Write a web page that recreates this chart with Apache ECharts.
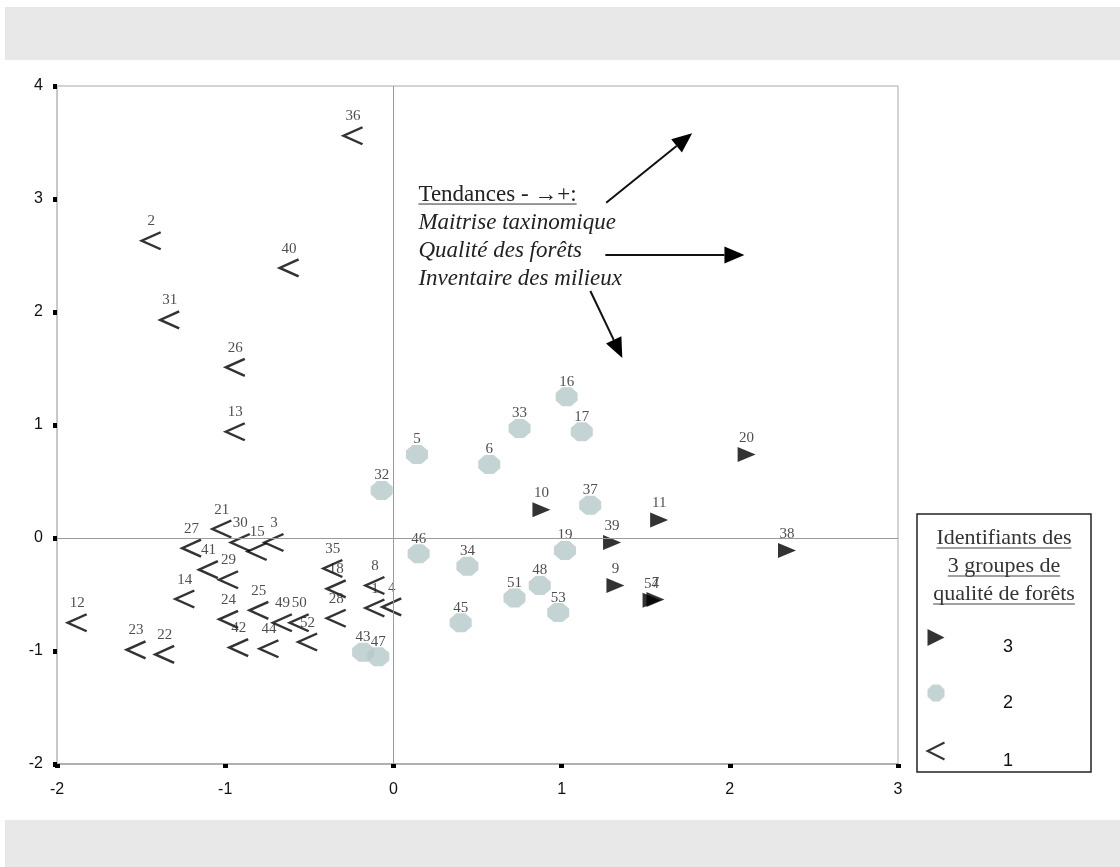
<!DOCTYPE html>
<html>
<head>
<meta charset="utf-8">
<script src="https://cdn.jsdelivr.net/npm/echarts@6/dist/echarts.min.js"></script>
<style>
  html, body { margin: 0; padding: 0; background: #fff; }
  #chart { width: 1120px; height: 867px; }
</style>
</head>
<body>
<div id="chart"></div>
<script>
// Forest sites projected on the first two factorial axes, by quality group.

// Group 1 (lowest quality)
const ids1 = [36, 2, 40, 31, 26, 13, 21, 30, 15, 3, 27, 41, 29, 14, 12, 23, 22, 24, 25, 42, 44, 49, 50, 52, 35, 18, 28, 8, 1, 4];
const x1 = [-0.24, -1.44, -0.62, -1.33, -0.94, -0.94, -1.02, -0.91, -0.81, -0.71, -1.20, -1.10, -0.98, -1.24, -1.88, -1.53, -1.36, -0.98, -0.80, -0.92, -0.74, -0.66, -0.56, -0.51, -0.36, -0.34, -0.34, -0.11, -0.11, -0.01];
const y1 = [3.56, 2.63, 2.39, 1.93, 1.51, 0.94, 0.08, -0.04, -0.12, -0.04, -0.09, -0.28, -0.37, -0.54, -0.75, -0.99, -1.03, -0.72, -0.64, -0.97, -0.98, -0.75, -0.75, -0.92, -0.27, -0.45, -0.71, -0.42, -0.62, -0.61];

// Group 2 (intermediate)
const ids2 = [16, 33, 17, 5, 6, 32, 37, 46, 34, 19, 48, 51, 53, 45, 43, 47];
const x2 = [1.03, 0.75, 1.12, 0.14, 0.57, -0.07, 1.17, 0.15, 0.44, 1.02, 0.87, 0.72, 0.98, 0.40, -0.18, -0.09];
const y2 = [1.25, 0.97, 0.94, 0.74, 0.65, 0.42, 0.29, -0.14, -0.25, -0.11, -0.42, -0.53, -0.66, -0.75, -1.01, -1.05];

// Group 3 (highest quality)
const ids3 = [20, 10, 11, 39, 38, 9, 7, 54];
const x3 = [2.10, 0.88, 1.58, 1.30, 2.34, 1.32, 1.558, 1.535];
const y3 = [0.74, 0.25, 0.16, -0.04, -0.11, -0.42, -0.545, -0.55];

// Axis ranges and tick labels
const xTicks = [-2, -1, 0, 1, 2, 3];
const yTicks = [-2, -1, 0, 1, 2, 3, 4];

// Trend text block and its arrows (data coordinates)
const trendTitle = 'Tendances - \u2192+:';
const trendLines = ['Maitrise taxinomique', 'Qualit\u00e9 des for\u00eats', 'Inventaire des milieux'];
const trendArrows = [
  [[1.265, 2.967], [1.776, 3.581]],
  [[1.260, 2.504], [2.087, 2.504]],
  [[1.171, 2.186], [1.361, 1.593]]
];

const legendTitle = ['Identifiants des', '3 groupes de', 'qualit\u00e9 de for\u00eats'];

const SERIF = '"Liberation Serif", "Times New Roman", "DejaVu Serif", serif';
const SANS = '"Liberation Sans", Arial, sans-serif';

const chevron = 'path://M10,0 L0,5 L10,10';
const octagon = 'path://M3,0 L7,0 L10,3 L10,7 L7,10 L3,10 L0,7 L0,3 Z';
const triangle = 'path://M0,0 L10,5 L0,10 Z';

function points(xs, ys, ids) {
  return ids.map((id, i) => [xs[i], ys[i], id]);
}

function pointLabel(distance) {
  return {
    show: true,
    position: 'top',
    distance: distance,
    formatter: p => String(p.value[2]),
    fontFamily: SERIF,
    fontSize: 15,
    color: '#222'
  };
}

const chart = echarts.init(document.getElementById('chart'), null, { renderer: 'canvas' });

const option = {
  animation: false,
  backgroundColor: '#fff',
  grid: {
    left: 57, right: 222, top: 86, bottom: 103,
    show: true, borderColor: '#a8a8a8', borderWidth: 1, backgroundColor: 'transparent'
  },
  xAxis: {
    type: 'value', min: xTicks[0], max: xTicks[xTicks.length - 1], interval: 1,
    axisLine: { show: true, onZero: false, lineStyle: { color: '#b0b0b0', width: 2 } },
    axisTick: { show: true, length: 4, lineStyle: { color: '#000', width: 5 } },
    splitLine: { show: false },
    axisLabel: { fontFamily: SANS, fontSize: 16, color: '#111', margin: 18 }
  },
  yAxis: {
    type: 'value', min: yTicks[0], max: yTicks[yTicks.length - 1], interval: 1,
    axisLine: { show: true, onZero: false, lineStyle: { color: '#c8c8c8', width: 2 } },
    axisTick: { show: true, length: 4, lineStyle: { color: '#000', width: 5 } },
    splitLine: { show: false },
    axisLabel: { fontFamily: SANS, fontSize: 16, color: '#111', margin: 14 }
  },
  legend: {
    orient: 'vertical',
    left: 925, top: 629,
    padding: 0,
    itemWidth: 22, itemHeight: 17, itemGap: 28,
    selectedMode: false,
    data: ['3', '2', '1'],
    formatter: name => '{t|' + name + '}',
    textStyle: {
      rich: { t: { fontFamily: SANS, fontSize: 18, color: '#111', padding: [20, 0, 0, 51] } }
    }
  },
  series: [
    {
      // reference lines through the origin
      name: 'axes', type: 'scatter', data: [], silent: true,
      markLine: {
        silent: true, symbol: ['none', 'none'], animation: false,
        label: { show: false },
        lineStyle: { color: '#9a9a9a', width: 1, type: 'solid' },
        emphasis: { disabled: true },
        data: [{ xAxis: 0 }, { yAxis: 0 }]
      }
    },
    {
      name: '1', type: 'scatter', data: points(x1, y1, ids1),
      symbol: chevron, symbolSize: [19, 17], symbolKeepAspect: false,
      itemStyle: { color: 'none', borderColor: '#000', borderWidth: 2.5 },
      label: pointLabel(1),
      emphasis: { disabled: true }
    },
    {
      name: '2', type: 'scatter', data: points(x2, y2, ids2),
      symbol: octagon, symbolSize: [22, 19], symbolKeepAspect: false,
      itemStyle: { color: '#b5c8c8' },
      label: pointLabel(-2),
      emphasis: { disabled: true }
    },
    {
      name: '3', type: 'scatter', data: points(x3, y3, ids3),
      symbol: triangle, symbolSize: [18, 15], symbolKeepAspect: false,
      itemStyle: { color: '#000' },
      label: pointLabel(1.5),
      emphasis: { disabled: true }
    }
  ]
};

chart.setOption(option);

// Text measurement for the underlines
const measureCtx = document.createElement('canvas').getContext('2d');
function textWidth(str, font) {
  measureCtx.font = font;
  return measureCtx.measureText(str).width;
}

function toPx(pt) {
  return chart.convertToPixel({ gridIndex: 0 }, pt);
}

function arrowElements(from, to) {
  const a = toPx(from), b = toPx(to);
  const dx = b[0] - a[0], dy = b[1] - a[1];
  const len = Math.sqrt(dx * dx + dy * dy);
  const ux = dx / len, uy = dy / len;
  const headL = 20, headW = 8.5;
  const bx = b[0] - ux * headL, by = b[1] - uy * headL;
  return [
    { type: 'line', shape: { x1: a[0], y1: a[1], x2: bx, y2: by }, style: { stroke: '#111', lineWidth: 2 } },
    {
      type: 'polygon',
      shape: { points: [[b[0], b[1]], [bx - uy * headW, by + ux * headW], [bx + uy * headW, by - ux * headW]] },
      style: { fill: '#000' }
    }
  ];
}

const graphics = [];

// page bands above and below the plot
graphics.push({ type: 'rect', z: -10, shape: { x: 5, y: 7, width: 1115, height: 53 }, style: { fill: '#e8e8e8' } });
graphics.push({ type: 'rect', z: -10, shape: { x: 5, y: 820, width: 1115, height: 47 }, style: { fill: '#e8e8e8' } });

// trend block
const textFont = 23;
const anchor = toPx([0.149, 3.035]);
const lineStep = 28;
const titleFont = textFont + 'px ' + SERIF;
graphics.push({
  type: 'text', x: anchor[0], y: anchor[1],
  style: { text: trendTitle, font: titleFont, fill: '#222', align: 'left', verticalAlign: 'middle' }
});
const tw = textWidth(trendTitle, titleFont);
graphics.push({
  type: 'line', shape: { x1: anchor[0], y1: anchor[1] + 9, x2: anchor[0] + tw, y2: anchor[1] + 9 },
  style: { stroke: '#333', lineWidth: 1 }
});
trendLines.forEach((t, i) => {
  graphics.push({
    type: 'text', x: anchor[0], y: anchor[1] + lineStep * (i + 1),
    style: { text: t, font: 'italic ' + textFont + 'px ' + SERIF, fill: '#222', align: 'left', verticalAlign: 'middle' }
  });
});
trendArrows.forEach(ar => arrowElements(ar[0], ar[1]).forEach(e => graphics.push(e)));

// legend frame and heading
graphics.push({
  type: 'rect', shape: { x: 917, y: 514, width: 174, height: 258 },
  style: { fill: 'none', stroke: '#222', lineWidth: 1.5 }
});
const lgFont = '22px ' + SERIF;
legendTitle.forEach((t, i) => {
  const cy = 538 + i * 28;
  graphics.push({
    type: 'text', x: 1004, y: cy,
    style: { text: t, font: lgFont, fill: '#333', align: 'center', verticalAlign: 'middle' }
  });
  const w = textWidth(t, lgFont);
  graphics.push({
    type: 'line', shape: { x1: 1004 - w / 2, y1: cy + 10, x2: 1004 + w / 2, y2: cy + 10 },
    style: { stroke: '#444', lineWidth: 1 }
  });
});

chart.setOption({ graphic: { elements: graphics } });
</script>
</body>
</html>
